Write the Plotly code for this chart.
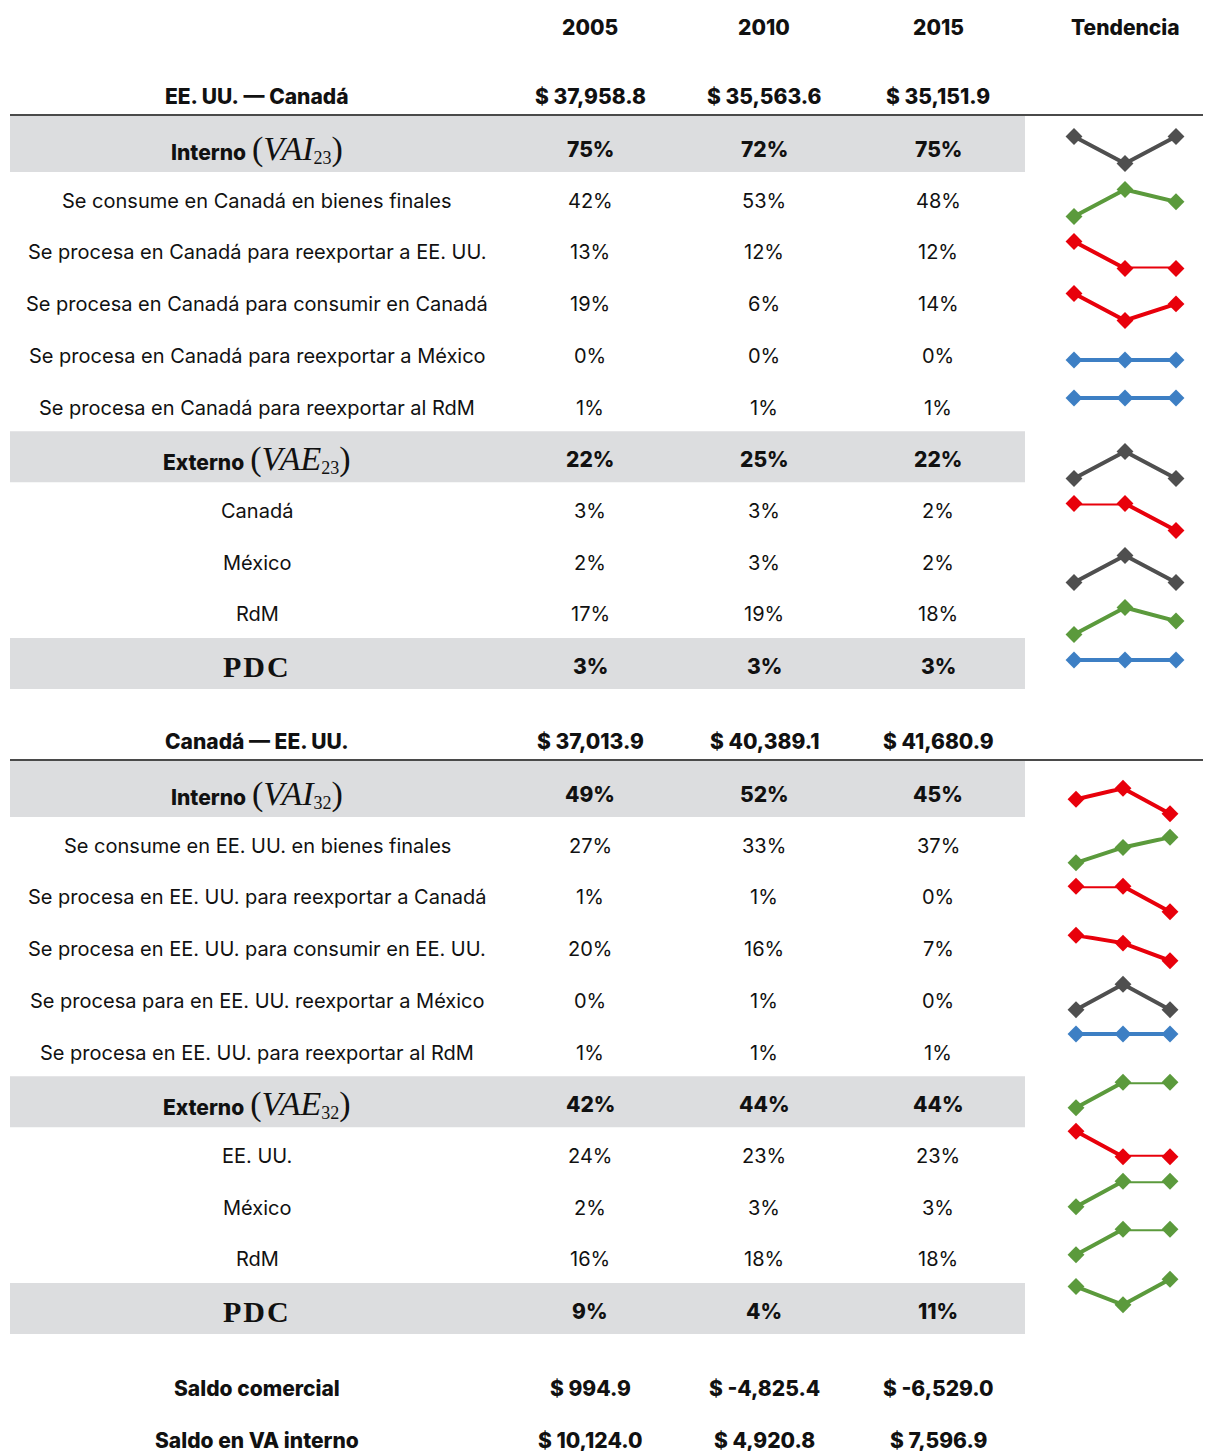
import plotly.graph_objects as go

# target page size and browser default body margin (the figure is placed at +8,+8)
W, H = 1211, 1451
OX, OY = 8, 8

# ---------------- data ----------------
years = ["2005", "2010", "2015"]
trend_title = "Tendencia"

block1_title = "EE. UU. — Canadá"
block1_total = [37958.8, 35563.6, 35151.9]
block1_labels = [
    "INT|VAI|23",
    "Se consume en Canadá en bienes finales",
    "Se procesa en Canadá para reexportar a EE. UU.",
    "Se procesa en Canadá para consumir en Canadá",
    "Se procesa en Canadá para reexportar a México",
    "Se procesa en Canadá para reexportar al RdM",
    "EXT|VAE|23",
    "Canadá",
    "México",
    "RdM",
    "PDC",
]
block1_2005 = [75, 42, 13, 19, 0, 1, 22, 3, 2, 17, 3]
block1_2010 = [72, 53, 12, 6, 0, 1, 25, 3, 3, 19, 3]
block1_2015 = [75, 48, 12, 14, 0, 1, 22, 2, 2, 18, 3]

block2_title = "Canadá — EE. UU."
block2_total = [37013.9, 40389.1, 41680.9]
block2_labels = [
    "INT|VAI|32",
    "Se consume en EE. UU. en bienes finales",
    "Se procesa en EE. UU. para reexportar a Canadá",
    "Se procesa en EE. UU. para consumir en EE. UU.",
    "Se procesa para en EE. UU. reexportar a México",
    "Se procesa en EE. UU. para reexportar al RdM",
    "EXT|VAE|32",
    "EE. UU.",
    "México",
    "RdM",
    "PDC",
]
block2_2005 = [49, 27, 1, 20, 0, 1, 42, 24, 2, 16, 9]
block2_2010 = [52, 33, 1, 16, 1, 1, 44, 23, 3, 18, 4]
block2_2015 = [45, 37, 0, 7, 0, 1, 44, 23, 3, 18, 11]

saldo_labels = ["Saldo comercial", "Saldo en VA interno"]
saldo_comercial = [994.9, -4825.4, -6529.0]
saldo_va_interno = [10124.0, 4920.8, 7596.9]

# ---------------- style / layout ----------------
SANS = "Inter, 'Noto Sans', sans-serif"
SERIF = "Liberation Serif"
TXT = "#111111"
BAND = "#dcdddf"
LINE = "#4a4a4a"
C_UP, C_DOWN, C_MIX, C_FLAT = "#5b9a3c", "#e8000b", "#4f4f4f", "#3d7fc4"

FW, FH = W - OX, H - OY
label_x = 257
col_x = [590, 764, 938]
trend_x = 1125
bold_rows = {0, 6, 10}

fig = go.Figure()
annotations = []
shapes = []


def txt(x, y, text, size=20, bold=False, color=TXT, family=SANS):
    annotations.append(dict(x=x, y=y, xref="x", yref="y", text=text, showarrow=False,
                            xanchor="center", yanchor="middle",
                            font=dict(family=family, size=size, color=color,
                                      weight=800 if bold else 400)))


def label_html(lab):
    if lab.startswith("INT|") or lab.startswith("EXT|"):
        kind, sym, sub = lab.split("|")
        word = "Interno" if kind == "INT" else "Externo"
        return (f"<span style='font-weight:800'>{word}</span> "
                f"<span style='font-family:{SERIF};font-size:34px'>(<i>{sym}</i></span>"
                f"<sub><span style='font-family:{SERIF};font-size:18px'>{sub}</span></sub>"
                f"<span style='font-family:{SERIF};font-size:34px'>)</span>")
    if lab == "PDC":
        return f"<span style='font-family:{SERIF};font-size:30px;letter-spacing:2px'><b>PDC</b></span>"
    return lab


def money(v):
    return f"$ {v:,.1f}"


# header
for cx, yr in zip(col_x, years):
    txt(cx, 27, yr, size=21, bold=True)
txt(trend_x, 27, trend_title, size=21, bold=True)

STEP = 51.7
spark_axes = []


def draw_block(title, totals, labels, v05, v10, v15, title_y, line_y, first_row_y,
               spark_x0, spark_x1, spark_cy, spark_h):
    txt(label_x, title_y, title.replace(" — ", "&nbsp;— "), size=21, bold=True)
    for cx, t in zip(col_x, totals):
        txt(cx, title_y, money(t), size=21, bold=True)
    shapes.append(dict(type="line", xref="x", yref="y", x0=10, x1=W, y0=line_y, y1=line_y,
                       line=dict(color=LINE, width=2), layer="above"))
    for i, lab in enumerate(labels):
        cy = first_row_y + i * STEP
        b = i in bold_rows
        if b:
            y0 = line_y + 1 if i == 0 else cy - 28
            shapes.append(dict(type="rect", xref="x", yref="y", x0=10, x1=1025,
                               y0=y0, y1=cy + 23, fillcolor=BAND, line=dict(width=0),
                               layer="below"))
        txt(label_x, cy, label_html(lab), size=21 if b else 20, bold=False)
        for cx, v in zip(col_x, (v05[i], v10[i], v15[i])):
            txt(cx, cy, f"{v}%", size=21 if b else 20, bold=b)
        # sparkline
        vals = [v05[i], v10[i], v15[i]]
        if vals[0] == vals[1] == vals[2]:
            col = C_FLAT
            rng = [vals[0] - 1, vals[0] + 1]
        else:
            col = C_UP if vals[2] > vals[0] else (C_DOWN if vals[2] < vals[0] else C_MIX)
            rng = [min(vals), max(vals)]
        k = len(spark_axes) + 2
        sy = spark_cy[i]
        spark_axes.append(dict(
            k=k,
            xdom=[(spark_x0 - OX) / FW, (spark_x1 - OX) / FW],
            ydom=[1 - (sy + spark_h / 2 - OY) / FH, 1 - (sy - spark_h / 2 - OY) / FH],
            yrng=rng,
        ))
        fig.add_trace(go.Scatter(
            x=years, y=vals, mode="lines+markers", xaxis=f"x{k}", yaxis=f"y{k}",
            line=dict(color=col, width=4),
            marker=dict(symbol="diamond", size=13, color=col),
            cliponaxis=False, hoverinfo="skip", showlegend=False,
        ))


spark_cy1 = [150, 203, 255, 307, 360, 398, 465, 517, 569, 621, 660]
spark_cy2 = [801, 850, 899, 948, 997, 1034, 1095, 1144, 1194, 1242, 1292]

draw_block(block1_title, block1_total, block1_labels, block1_2005, block1_2010, block1_2015,
           96, 115, 149, 1074, 1176, spark_cy1, 27)
draw_block(block2_title, block2_total, block2_labels, block2_2005, block2_2010, block2_2015,
           741, 760, 794, 1076, 1170, spark_cy2, 25.5)

# saldo rows
for j, (lab, vals) in enumerate(zip(saldo_labels, (saldo_comercial, saldo_va_interno))):
    cy = 1388 + j * 52
    txt(label_x, cy, lab, size=21, bold=True)
    for cx, v in zip(col_x, vals):
        txt(cx, cy, money(v), size=21, bold=True)

layout = dict(
    width=FW, height=FH, margin=dict(l=0, r=0, t=0, b=0),
    paper_bgcolor="white", plot_bgcolor="white", showlegend=False,
    xaxis=dict(range=[OX, W], domain=[0, 1], visible=False, fixedrange=True),
    yaxis=dict(range=[H, OY], domain=[0, 1], visible=False, fixedrange=True),
    annotations=annotations, shapes=shapes,
)
for a in spark_axes:
    k = a["k"]
    layout[f"xaxis{k}"] = dict(domain=a["xdom"], range=[0, 2], visible=False,
                               anchor=f"y{k}", fixedrange=True)
    layout[f"yaxis{k}"] = dict(domain=a["ydom"], range=a["yrng"], visible=False,
                               anchor=f"x{k}", fixedrange=True)

fig.update_layout(**layout)
fig.write_html("out.html", post_script="document.body.style.overflow='hidden';")
